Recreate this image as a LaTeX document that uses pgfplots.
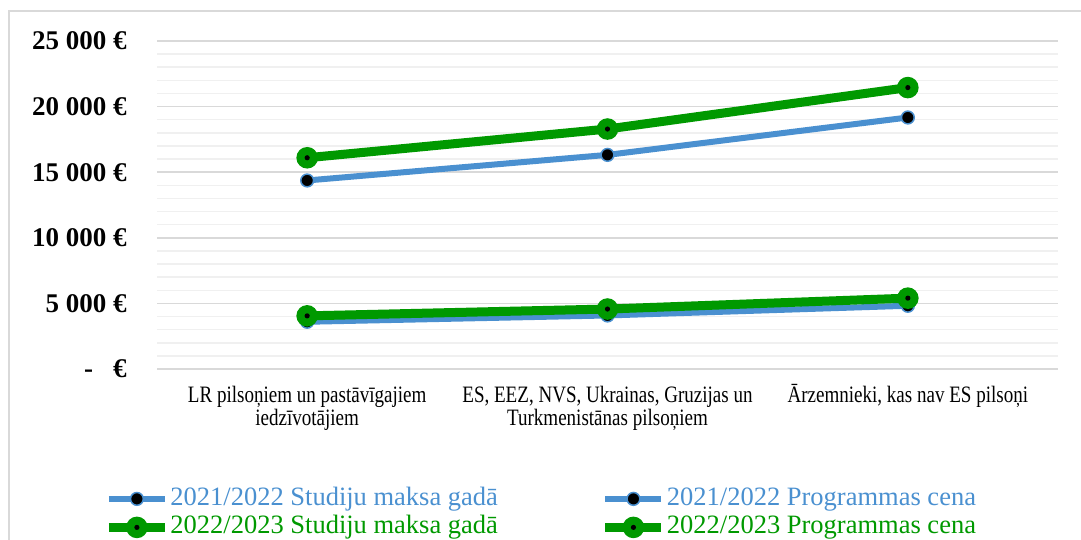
\documentclass[border=0pt]{standalone}
\usepackage{fontspec}
\setmainfont{Liberation Serif}
\newfontfamily\catfont[FakeStretch=0.81]{Liberation Serif}
\newfontfamily\legfont{Liberation Serif}
\usepackage{pgfplots}
\pgfplotsset{compat=1.18}

\definecolor{cblue}{HTML}{4A90D0}
\definecolor{cgreen}{HTML}{009900}
\definecolor{gmajor}{HTML}{D9D9D9}
\definecolor{gminor}{HTML}{F0F0F0}

% green disc with a small black centre
\pgfdeclareplotmark{gdot}{%
  \pgfpathcircle{\pgfpointorigin}{\pgfplotmarksize}\pgfusepathqfill
  \begin{pgfscope}
    \pgfsetfillcolor{black}%
    \pgfpathcircle{\pgfpointorigin}{0.24\pgfplotmarksize}\pgfusepathqfill
  \end{pgfscope}}

\begin{document}
\begin{tikzpicture}
  % 1 px of the reference = 0.5pt
  \useasboundingbox (0,0) rectangle (540.5pt,270pt);
  \draw[gmajor, line width=0.75pt] (4.5pt,0pt) -- (4.5pt,264.5pt) -- (540.5pt,264.5pt);

  \begin{axis}[
      at={(78.5pt,85.5pt)}, anchor=south west,
      scale only axis,
      width=450.5pt, height=164pt,
      xmin=-0.5, xmax=2.5,
      ymin=0, ymax=25000,
      scaled y ticks=false,
      axis line style={draw=none},
      major tick length=0pt, minor tick length=0pt,
      xtick={0,1,2},
      xticklabels={
        {\vphantom{Ā}LR pilsoņiem un pastāvīgajiem\\iedzīvotājiem},
        {\vphantom{Ā}ES, EEZ, NVS, Ukrainas, Gruzijas un\\Turkmenistānas pilsoņiem},
        {\vphantom{Ā}Ārzemnieki, kas nav ES pilsoņi}},
      xticklabel style={font=\catfont\fontsize{11.75}{9.3}\selectfont,
        align=center, anchor=north, inner sep=0pt, yshift=-7.5pt},
      ytick={0,5000,10000,15000,20000,25000},
      yticklabels={{-\hspace{10pt}€},{5 000 €},{10 000 €},{15 000 €},{20 000 €},{25 000 €}},
      yticklabel style={font=\bfseries\fontsize{13.5}{14}\selectfont,
        anchor=east, inner sep=0pt, xshift=-15pt},
      minor y tick num=4,
      ymajorgrids, yminorgrids,
      major grid style={gmajor, line width=0.75pt},
      minor grid style={gminor, line width=0.75pt},
      legend columns=2,
      legend cell align=left,
      legend image code/.code={%
        \draw[#1, mark repeat=2, mark phase=2]
          plot coordinates {(0pt,0pt) (14pt,0pt) (28pt,0pt)};},
      legend style={at={(-0.0588,-0.3567)}, anchor=north west,
        draw=none, fill=none, inner sep=0pt,
        font=\legfont\fontsize{13.25}{13.5}\selectfont,
        row sep=1.75pt,
        nodes={inner ysep=0pt, inner xsep=0.5pt, text height=9.5pt, text depth=3pt},
        /tikz/column 2/.style={column sep=51pt}},
    ]

    % 2021/2022 Studiju maksa gadā
    \addplot[cblue, line width=3pt, mark=*, mark size=3.2pt,
      mark options={fill=black, draw=cblue, line width=0.75pt}]
      coordinates {(0,3600) (1,4080) (2,4820)};
    \addlegendentry[text=cblue]{2021/2022 Studiju maksa gadā}

    % 2021/2022 Programmas cena
    \addplot[cblue, line width=3pt, mark=*, mark size=3.2pt,
      mark options={fill=black, draw=cblue, line width=0.75pt}]
      coordinates {(0,14370) (1,16320) (2,19170)};
    \addlegendentry[text=cblue]{2021/2022 Programmas cena}

    % 2022/2023 Studiju maksa gadā
    \addplot[cgreen, line width=4.5pt, mark=gdot, mark size=5.4pt,
      mark options={fill=cgreen}]
      coordinates {(0,4050) (1,4570) (2,5400)};
    \addlegendentry[text=cgreen]{2022/2023 Studiju maksa gadā}

    % 2022/2023 Programmas cena
    \addplot[cgreen, line width=4.5pt, mark=gdot, mark size=5.4pt,
      mark options={fill=cgreen}]
      coordinates {(0,16100) (1,18290) (2,21450)};
    \addlegendentry[text=cgreen]{2022/2023 Programmas cena}

  \end{axis}
\end{tikzpicture}
\end{document}
